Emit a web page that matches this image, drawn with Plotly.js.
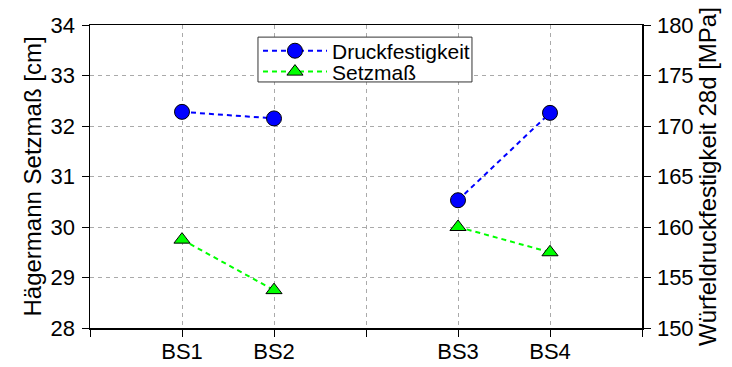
<!DOCTYPE html>
<html>
<head>
<meta charset="utf-8">
<script src="https://cdn.plot.ly/plotly-3.0.1.min.js"></script>
<style>
  html, body { margin: 0; padding: 0; background: #fff; }
  #chart { width: 732px; height: 367px; }
</style>
</head>
<body>
<div id="chart"></div>
<script>
// Mixes and the group each belongs to (groups are separated by an empty slot)
const categories = ['BS1', 'BS2', 'BS3', 'BS4'];
const groups = [0, 0, 1, 1];

// 28-day cube compressive strength [MPa] (right axis)
const druckfestigkeit = [171.4, 170.75, 162.65, 171.3];
// Hägermann slump flow [cm] (left axis)
const setzmass = [29.75, 28.75, 30.0, 29.5];

const yLeftTicks = [28, 29, 30, 31, 32, 33, 34];
const yRightTicks = [150, 155, 160, 165, 170, 175, 180];

// Slot position of each mix on the x axis, with a null between groups so
// the dashed line is broken there.
function buildSeries(values) {
  const xs = [], ys = [];
  categories.forEach((c, i) => {
    if (i > 0 && groups[i] !== groups[i - 1]) { xs.push(null); ys.push(null); }
    xs.push(i + groups[i] + 1);
    ys.push(values[i]);
  });
  return { xs, ys };
}
const slotCount = categories.length + (groups[groups.length - 1]) + 2;
const tickVals = [], tickText = [];
for (let s = 0; s <= slotCount - 1; s++) { tickVals.push(s); tickText.push(''); }
categories.forEach((c, i) => { tickText[i + groups[i] + 1] = c; });

const dk = buildSeries(druckfestigkeit);
const sm = buildSeries(setzmass);

const family = 'Liberation Sans, Arial, sans-serif';
const tickFont = { family, size: 22, color: '#000' };
const titleFont = { family, size: 24, color: '#000' };
const legendFont = { family, size: 21, color: '#000' };

const traces = [
  {
    x: dk.xs, y: dk.ys, yaxis: 'y2', name: 'Druckfestigkeit', legend: 'legend',
    type: 'scatter', mode: 'lines+markers', connectgaps: false,
    line: { color: '#0000ff', width: 2, dash: '5px,4px' },
    marker: { symbol: 'circle', size: 15, color: '#0000ff', line: { color: '#000', width: 1 } }
  },
  {
    x: sm.xs, y: sm.ys, yaxis: 'y', name: 'Setzmaß', legend: 'legend2',
    type: 'scatter', mode: 'lines+markers', connectgaps: false,
    line: { color: '#00ff00', width: 2, dash: '5px,4px' },
    marker: { symbol: 'triangle-up', size: 14, color: '#00ff00', line: { color: '#000', width: 1 } }
  }
];

// one legend per entry so the rows sit close together inside a shared box
const legendCommon = {
  x: 0.3043, xanchor: 'left', yanchor: 'middle',
  bgcolor: 'rgba(0,0,0,0)', borderwidth: 0,
  font: legendFont, itemwidth: 64
};

const layout = {
  width: 732, height: 367,
  margin: { l: 90, r: 90, t: 25, b: 39 },
  paper_bgcolor: '#fff', plot_bgcolor: '#fff',
  font: tickFont,
  showlegend: true,
  legend: Object.assign({}, legendCommon, { y: 0.914 }),
  legend2: Object.assign({}, legendCommon, { y: 0.845 }),
  shapes: [{
    type: 'rect', xref: 'paper', yref: 'paper', layer: 'above',
    x0: 0.3043, x1: 0.692, y0: 0.812, y1: 0.960,
    fillcolor: '#fff', line: { color: '#333', width: 1 }
  }],
  xaxis: {
    range: [0, slotCount - 1], tickmode: 'array', tickvals: tickVals, ticktext: tickText,
    showline: true, linecolor: '#000', linewidth: 1.5, mirror: true,
    ticks: 'outside', ticklen: 7, tickcolor: '#000', tickwidth: 1,
    ticklabelstandoff: -4,
    showgrid: true, gridcolor: '#aaa', griddash: '4px,4px', gridwidth: 1,
    zeroline: false, tickfont: tickFont
  },
  yaxis: {
    range: [28, 34], tickmode: 'array', tickvals: yLeftTicks,
    showline: true, linecolor: '#000', linewidth: 1.5,
    ticks: 'outside', ticklen: 7, tickcolor: '#000', tickwidth: 1,
    ticklabelstandoff: 2,
    showgrid: true, gridcolor: '#aaa', griddash: '4px,4px', gridwidth: 1,
    zeroline: false, tickfont: tickFont,
    title: { text: 'Hägermann Setzmaß [cm]', font: titleFont, standoff: 2 }
  },
  yaxis2: {
    range: [150, 180], tickmode: 'array', tickvals: yRightTicks,
    overlaying: 'y', side: 'right',
    showline: true, linecolor: '#000', linewidth: 1.5,
    ticks: 'outside', ticklen: 7, tickcolor: '#000', tickwidth: 1,
    ticklabelstandoff: 2,
    showgrid: false, zeroline: false, tickfont: tickFont,
    title: { text: 'Würfeldruckfestigkeit 28d [MPa]', font: titleFont, standoff: 2 }
  }
};

Plotly.newPlot('chart', traces, layout, { displayModeBar: false, staticPlot: true });
</script>
</body>
</html>
